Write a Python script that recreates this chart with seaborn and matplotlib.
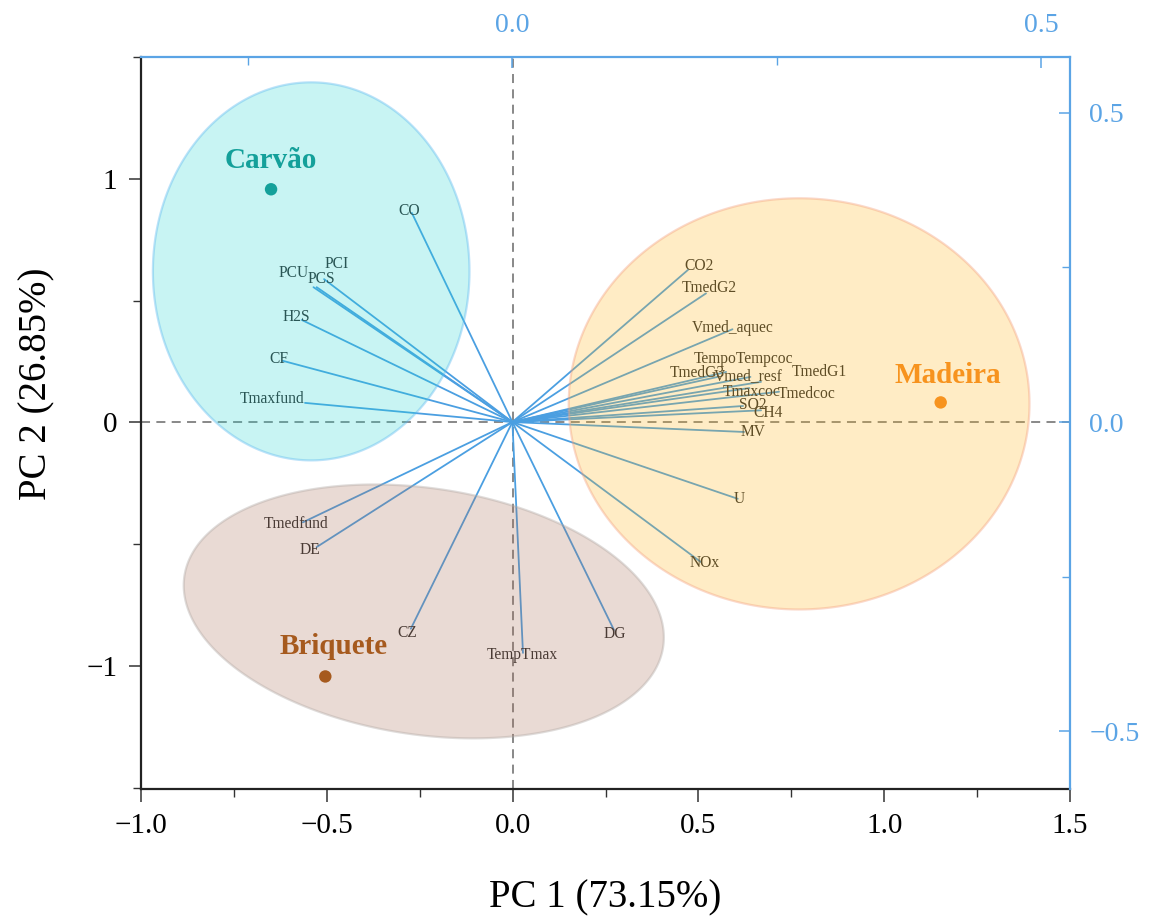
import numpy as np
import pandas as pd
import matplotlib
matplotlib.use("Agg")
import matplotlib.pyplot as plt
from matplotlib.colors import to_rgba
from matplotlib.ticker import MultipleLocator, FuncFormatter
import seaborn as sns

# ---- variable loadings (secondary axes: top / right) ----
variables = ["CO", "PCI", "PCS", "PCU", "H2S", "CF", "Tmaxfund", "Tmedfund",
             "DE", "CZ", "TempTmax", "DG", "NOx", "U", "MV", "CH4", "SO2",
             "Tmedcoc", "Tmaxcoc", "TmedG1", "Vmed_resf", "TmedG3",
             "TempoTempcoc", "Vmed_aquec", "TmedG2", "CO2"]
load_pc1 = [-0.095, -0.178, -0.185, -0.188, -0.199, -0.217, -0.196, -0.198,
            -0.185, -0.096, 0.010, 0.096, 0.178, 0.213, 0.219, 0.235, 0.218,
            0.252, 0.224, 0.235, 0.225, 0.194, 0.202, 0.208, 0.183, 0.166]
load_pc2 = [0.338, 0.231, 0.218, 0.218, 0.165, 0.099, 0.031, -0.162,
            -0.202, -0.334, -0.373, -0.336, -0.226, -0.124, -0.016, 0.019, 0.026,
            0.049, 0.055, 0.065, 0.073, 0.073, 0.081, 0.150, 0.208, 0.246]

# ---- group scores (primary axes: bottom / left) ----
groups = ["Carvão", "Madeira", "Briquete"]
group_pc1 = [-0.650, 1.152, -0.504]
group_pc2 = [0.957, 0.082, -1.043]

# ---- group ellipses ----
ell_cx = [-0.542, 0.771, -0.239]
ell_cy = [0.620, 0.076, -0.776]
ell_rx = [0.426, 0.620, 0.646]
ell_ry = [0.776, 0.844, 0.510]
ell_tilt = [0.0, 0.0, -0.107]

xlabel = "PC 1 (73.15%)"
ylabel = "PC 2 (26.85%)"

# ---- styling ----
group_colors = {"Carvão": "#14a09a", "Madeira": "#f7931e", "Briquete": "#a65a1e"}
fill_colors = ["#27d7d3", "#ffb71b", "#ab6f57"]
edge_colors = ["#5bb8f0", "#f4a07f", "#b0a8a4"]
arrow_color = "#4b9fe1"
axis2_color = "#5ba4e5"

label_offsets = {
    "CO": (-3, 2), "PCI": (13, 15), "PCS": (5, 8), "PCU": (-20, 14),
    "H2S": (-5, 3), "CF": (-4, 2), "Tmaxfund": (-33, 4), "Tmedfund": (-7, -2),
    "DE": (-7, -3), "CZ": (-4, -4), "TempTmax": (-1, -2), "DG": (1, -4),
    "NOx": (4, -1), "U": (1, 0), "MV": (9, 0), "CH4": (7, -3), "SO2": (10, 1),
    "Tmedcoc": (28, -2), "Tmaxcoc": (2, -4), "TmedG1": (58, 10),
    "Vmed_resf": (-2, 1), "TmedG3": (-20, 4), "TempoTempcoc": (17, 13),
    "Vmed_aquec": (0, 1), "TmedG2": (3, 5), "CO2": (11, 4),
}
group_label_offsets = {"Carvão": (0, 29), "Madeira": (7, 27), "Briquete": (8, 30)}

sns.set_theme(style="white")
plt.rcParams["font.family"] = ["Liberation Serif", "DejaVu Serif"]
plt.rcParams["axes.unicode_minus"] = True

fig = plt.figure(figsize=(11.49, 9.21), dpi=100)
pos = [141 / 1149, 1 - 789 / 921, (1070 - 141) / 1149, (789 - 57) / 921]
ax = fig.add_axes(pos)
ax2 = fig.add_axes(pos, facecolor="none")

ax.set_xlim(-1.0, 1.5)
ax.set_ylim(-1.505, 1.5)
ax2.set_xlim(-0.351, 0.527)
ax2.set_ylim(-0.593, 0.590)

# reference lines through the origin
ax.axhline(0, color="#7f7f7f", lw=1.3, ls=(0, (5, 3.5)), zorder=1)
ax.axvline(0, color="#7f7f7f", lw=1.3, ls=(0, (5, 3.5)), zorder=1)

# loading vectors drawn in the secondary coordinate system
load_df = pd.DataFrame({"var": variables, "pc1": load_pc1, "pc2": load_pc2})
for _, r in load_df.iterrows():
    ax.plot([0, r.pc1], [0, r.pc2], color=arrow_color, lw=1.3,
            transform=ax2.transData, zorder=2, solid_capstyle="round")
    dx, dy = label_offsets[r["var"]]
    ax.annotate(r["var"], xy=(r.pc1, r.pc2), xycoords=ax2.transData,
                xytext=(dx, dy), textcoords="offset pixels",
                ha="center", va="center", fontsize=11.2, color="#2a2a2a",
                zorder=3)

# group ellipses
t = np.linspace(0, 2 * np.pi, 400)
for i in range(len(groups)):
    ex = ell_cx[i] + ell_rx[i] * np.cos(t)
    ey = ell_cy[i] + ell_ry[i] * np.sin(t) + ell_tilt[i] * np.cos(t)
    ax.fill(ex, ey, facecolor=to_rgba(fill_colors[i], 0.25),
            edgecolor=to_rgba(edge_colors[i], 0.4), lw=1.6, zorder=4)

# group centres
grp_df = pd.DataFrame({"group": groups, "pc1": group_pc1, "pc2": group_pc2})
sns.scatterplot(data=grp_df, x="pc1", y="pc2", hue="group",
                palette=group_colors, s=80, edgecolor="none", legend=False,
                ax=ax, zorder=5)
for g, x, y in zip(groups, group_pc1, group_pc2):
    dx, dy = group_label_offsets[g]
    ax.annotate(g, xy=(x, y), xytext=(dx, dy), textcoords="offset pixels",
                ha="center", va="center", fontsize=21, fontweight="bold",
                color=group_colors[g], zorder=6)

# primary axes: bottom / left
ax.xaxis.set_major_locator(MultipleLocator(0.5))
ax.xaxis.set_minor_locator(MultipleLocator(0.25))
ax.yaxis.set_major_locator(MultipleLocator(1.0))
ax.yaxis.set_minor_locator(MultipleLocator(0.5))
ax.xaxis.set_major_formatter(FuncFormatter(lambda v, p: f"{v:.1f}".replace("-", "\u2212")))
ax.yaxis.set_major_formatter(FuncFormatter(lambda v, p: f"{v:.0f}".replace("-", "\u2212")))
ax.tick_params(axis="both", which="major", direction="out", length=9, width=1.1,
               color="#333333", labelsize=21, labelcolor="black", pad=8,
               bottom=True, left=True)
ax.tick_params(axis="both", which="minor", direction="out", length=6, width=1.0,
               color="#333333", bottom=True, left=True)
for side in ["top", "right"]:
    ax.spines[side].set_visible(False)
for side in ["left", "bottom"]:
    ax.spines[side].set_color("#222222")
    ax.spines[side].set_linewidth(1.6)
ax.set_xlabel(xlabel, fontsize=28, color="black")
ax.set_ylabel(ylabel, fontsize=28, color="black")
ax.xaxis.set_label_coords(0.5, -0.123)
ax.yaxis.set_label_coords(-0.112, 0.553)
ax.xaxis.label.set_va("top")
ax.yaxis.label.set_va("center")

# secondary axes: top / right (loading scale)
ax2.xaxis.tick_top()
ax2.yaxis.tick_right()
ax2.xaxis.set_major_locator(MultipleLocator(0.5))
ax2.xaxis.set_minor_locator(MultipleLocator(0.25))
ax2.yaxis.set_major_locator(MultipleLocator(0.5))
ax2.yaxis.set_minor_locator(MultipleLocator(0.25))
fmt2 = FuncFormatter(lambda v, p: f"{v:.1f}".replace("-", "\u2212"))
ax2.xaxis.set_major_formatter(fmt2)
ax2.yaxis.set_major_formatter(fmt2)
ax2.tick_params(axis="both", which="major", direction="in", length=8, width=1.1,
                color=axis2_color, labelcolor=axis2_color, labelsize=20, pad=14,
                top=True, right=True, bottom=False, left=False)
ax2.tick_params(axis="both", which="minor", direction="in", length=6, width=1.0,
                color=axis2_color, top=True, right=True, bottom=False, left=False)
for side in ["left", "bottom"]:
    ax2.spines[side].set_visible(False)
for side in ["top", "right"]:
    ax2.spines[side].set_visible(True)
    ax2.spines[side].set_color(axis2_color)
    ax2.spines[side].set_linewidth(1.6)
ax2.grid(False)
ax.grid(False)

fig.savefig("out.png", dpi=100)
